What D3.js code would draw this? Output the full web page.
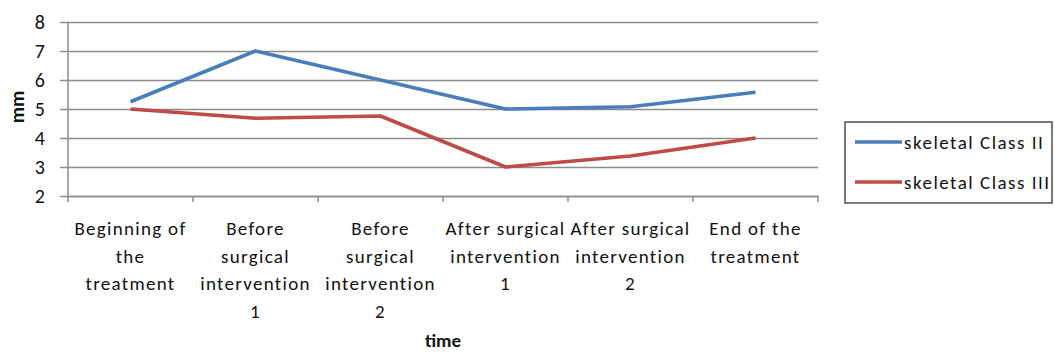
<!DOCTYPE html>
<html>
<head>
<meta charset="utf-8">
<script src="https://cdn.jsdelivr.net/npm/d3@7"></script>
<style>
  html, body { margin: 0; padding: 0; background: #fff; }
  svg text { font-family: Carlito, "Open Sans", "DejaVu Sans Condensed", sans-serif; fill: #111; }
</style>
</head>
<body>
<svg id="chart" width="1055" height="352"></svg>
<script>
// Time points of the treatment
const categories = [
  ["Beginning of", "the", "treatment"],
  ["Before", "surgical", "intervention", "1"],
  ["Before", "surgical", "intervention", "2"],
  ["After surgical", "intervention", "1"],
  ["After surgical", "intervention", "2"],
  ["End of the", "treatment"]
];
const classII = [5.25, 7.0, 6.0, 5.0, 5.08, 5.58];
const classIII = [5.0, 4.68, 4.76, 3.0, 3.38, 4.0];
const yTicks = [2, 3, 4, 5, 6, 7, 8];
const seriesNames = ["skeletal Class II", "skeletal Class III"];
const colors = ["#4a7ebb", "#be4b48"];

const svg = d3.select("#chart");
const plotLeft = 68, plotRight = 818, plotTop = 22, plotBottom = 196;

const x = d3.scaleBand().domain(d3.range(categories.length)).range([plotLeft, plotRight]);
const y = d3.scaleLinear().domain([2, 8]).range([plotBottom, plotTop]);

// horizontal gridlines with outward ticks
const yAxis = svg.append("g").attr("transform", `translate(${plotLeft},0)`)
  .call(d3.axisLeft(y).tickValues(yTicks).tickFormat(d3.format("d"))
    .tickSize(-(plotRight - plotLeft)).tickSizeOuter(0).tickPadding(23));
yAxis.select(".domain").remove();
yAxis.selectAll(".tick line").attr("stroke", "#8c8c8c").attr("stroke-width", 1.5).attr("x1", -8);
yAxis.selectAll(".tick text").attr("font-size", 20).attr("fill", "#111")
  .style("font-family", 'Carlito, "Open Sans", sans-serif');

// vertical axis line
svg.append("line").attr("x1", plotLeft).attr("x2", plotLeft).attr("y1", plotTop).attr("y2", plotBottom)
  .attr("stroke", "#8c8c8c").attr("stroke-width", 1.5);

// category axis
const xAxis = svg.append("g").attr("transform", `translate(0,${plotBottom})`)
  .call(d3.axisBottom(x).tickValues([]).tickSizeOuter(0));
xAxis.select(".domain").attr("stroke", "#8c8c8c").attr("stroke-width", 1.5);
const boundaries = d3.range(categories.length + 1).map(i => i < categories.length ? x(i) : x(categories.length - 1) + x.bandwidth());
svg.append("g").selectAll("line").data(boundaries).join("line")
  .attr("x1", d => d).attr("x2", d => d).attr("y1", plotBottom).attr("y2", plotBottom + 6)
  .attr("stroke", "#8c8c8c").attr("stroke-width", 1.5);

// category labels
const lab = svg.append("g").selectAll("text").data(categories).join("text")
  .attr("text-anchor", "middle").attr("font-size", 19).attr("letter-spacing", 1.3)
  .attr("transform", (d, i) => `translate(${x(i) + x.bandwidth() / 2},${plotBottom + 39})`);
lab.selectAll("tspan").data(d => d).join("tspan")
  .attr("x", 0).attr("dy", (d, i) => i === 0 ? 0 : 27.5).text(d => d);

// series lines
const line = d3.line().x((d, i) => x(i) + x.bandwidth() / 2).y(d => y(d));
[classII, classIII].forEach((s, k) => {
  svg.append("path").datum(s).attr("d", line).attr("fill", "none")
    .attr("stroke", colors[k]).attr("stroke-width", 3.6).attr("stroke-linejoin", "round");
});

// axis titles
svg.append("text").attr("x", 443).attr("y", 347).attr("text-anchor", "middle")
  .attr("font-size", 19).attr("font-weight", "bold").text("time");
svg.append("text").attr("transform", "translate(24,107) rotate(-90)").attr("text-anchor", "middle")
  .attr("font-size", 20).attr("font-weight", "bold").text("mm");

// legend
const lg = svg.append("g");
lg.append("rect").attr("x", 845).attr("y", 122).attr("width", 207).attr("height", 81)
  .attr("fill", "#fff").attr("stroke", "#333").attr("stroke-width", 1.3);
seriesNames.forEach((n, k) => {
  const yy = 142 + k * 40;
  lg.append("line").attr("x1", 855).attr("x2", 902).attr("y1", yy).attr("y2", yy)
    .attr("stroke", colors[k]).attr("stroke-width", 3.6);
  lg.append("text").attr("x", 904).attr("y", yy + 7).attr("font-size", 19)
    .attr("letter-spacing", 1.5).text(n);
});
</script>
</body>
</html>
